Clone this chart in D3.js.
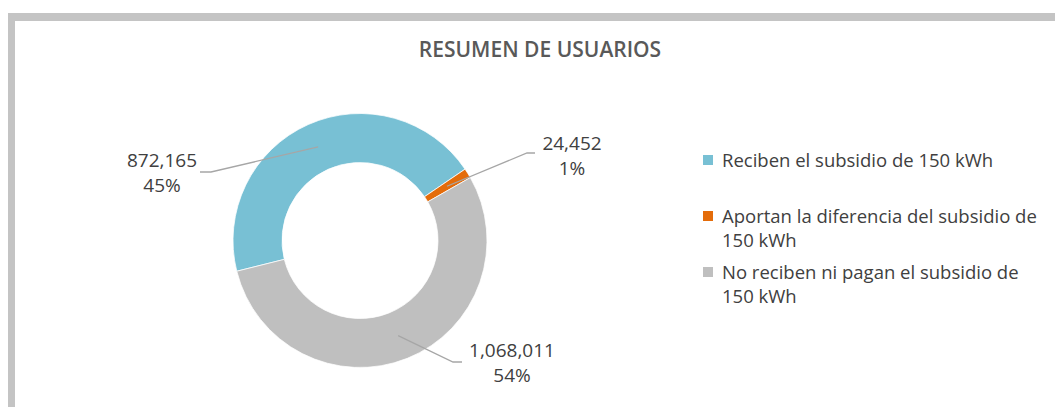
<!DOCTYPE html>
<html>
  <head>
    <meta charset="utf-8">
    <title>Resumen de usuarios</title>
    <script type="text/javascript" src="https://d3js.org/d3.v7.min.js"></script>
    <style>
      body { margin: 0; background: #fff; }
    </style>
  </head>
  <body>
    <script type="text/javascript">
    var w = 1055;
    var h = 407;

    // data
    var title = "RESUMEN DE USUARIOS";
    var categories = [
      "Reciben el subsidio de 150 kWh",
      "Aportan la diferencia del subsidio de 150 kWh",
      "No reciben ni pagan el subsidio de 150 kWh"
    ];
    var values = [872165, 24452, 1068011];
    var percentLabels = ["45%", "1%", "54%"];
    var colors = ["#78c0d4", "#e46c0a", "#bfbfbf"];

    // where each data label sits: elbow of leader, end of leader, text centre
    var labelLayout = [
      { elbow: [211, 172], end: [200, 172], text: [162, 160] },
      { elbow: [527, 153], end: [535, 153], text: [572, 143] },
      { elbow: [453, 362], end: [462, 362], text: [512, 350] }
    ];

    var cx = 360, cy = 240.5;
    var outerR = 127, innerR = 78;
    var startDeg = 256;

    var svg = d3.select("body")
                .append("svg")
                .attr("width", w)
                .attr("height", h);

    // chart frame (grey border, clipped by the window on right and bottom)
    svg.append("rect")
       .attr("x", 0).attr("y", 0).attr("width", w).attr("height", h)
       .attr("fill", "#fff");
    svg.append("rect")
       .attr("x", 8).attr("y", 13).attr("width", w).attr("height", 8)
       .attr("fill", "#c4c4c4");
    svg.append("rect")
       .attr("x", 8).attr("y", 13).attr("width", 7).attr("height", h)
       .attr("fill", "#c4c4c4");

    svg.append("text")
       .text(title)
       .attr("x", 540)
       .attr("y", 57)
       .attr("text-anchor", "middle")
       .attr("font-family", "Open Sans")
       .attr("font-weight", 600)
       .attr("font-size", "21px")
       .attr("fill", "#595959");

    var pie = d3.pie()
                .sort(null)
                .startAngle(startDeg * Math.PI / 180)
                .endAngle((startDeg + 360) * Math.PI / 180);
    var arcs = pie(values);

    var arc = d3.arc().innerRadius(innerR).outerRadius(outerR);

    var g = svg.append("g").attr("transform", "translate(" + cx + "," + cy + ")");
    g.selectAll("path")
     .data(arcs)
     .enter()
     .append("path")
     .attr("d", arc)
     .attr("fill", function(d, i){ return colors[i]; })
     .attr("stroke", "#fff")
     .attr("stroke-width", 0.75);

    // leader lines from the slice centroid
    var fmt = d3.format(",");
    svg.selectAll("polyline.leader")
       .data(arcs)
       .enter()
       .append("polyline")
       .attr("class", "leader")
       .attr("points", function(d, i){
         var c = arc.centroid(d);
         var L = labelLayout[i];
         return [[c[0] + cx, c[1] + cy], L.elbow, L.end].map(function(p){ return p.join(","); }).join(" ");
       })
       .attr("fill", "none")
       .attr("stroke", "#a6a6a6")
       .attr("stroke-width", 1.3);

    var labels = svg.selectAll("text.dlabel")
       .data(arcs)
       .enter()
       .append("text")
       .attr("class", "dlabel")
       .attr("text-anchor", "middle")
       .attr("font-family", "Open Sans")
       .attr("font-size", "19px")
       .attr("fill", "#404040");
    labels.append("tspan")
       .attr("x", function(d, i){ return labelLayout[i].text[0]; })
       .attr("y", function(d, i){ return labelLayout[i].text[1] + 7; })
       .text(function(d, i){ return fmt(values[i]); });
    labels.append("tspan")
       .attr("x", function(d, i){ return labelLayout[i].text[0]; })
       .attr("y", function(d, i){ return labelLayout[i].text[1] + 32; })
       .text(function(d, i){ return percentLabels[i]; });

    // legend
    var legendX = 703, legendTextX = 722, wrapW = 335;
    var rowY = [167, 223, 279];
    var lineH = 24;
    var legend = svg.append("g");
    categories.forEach(function(cat, i){
      legend.append("rect")
            .attr("x", legendX)
            .attr("y", rowY[i] - 12)
            .attr("width", 10)
            .attr("height", 10)
            .attr("fill", colors[i]);
      var t = legend.append("text")
            .attr("font-family", "Open Sans")
            .attr("font-size", "18.5px")
            .attr("fill", "#404040");
      // word wrap, keeping "150 kWh" together
      var words = cat.replace("150 kWh", "150\u00a0kWh").split(" "), line = [], n = 0;
      var ts = t.append("tspan").attr("x", legendTextX).attr("y", rowY[i]);
      words.forEach(function(wd){
        line.push(wd);
        ts.text(line.join(" "));
        if (ts.node().getComputedTextLength() > wrapW && line.length > 1) {
          line.pop();
          ts.text(line.join(" "));
          line = [wd];
          n++;
          ts = t.append("tspan").attr("x", legendTextX).attr("y", rowY[i] + n * lineH).text(wd);
        }
      });
    });
    </script>
  </body>
</html>
